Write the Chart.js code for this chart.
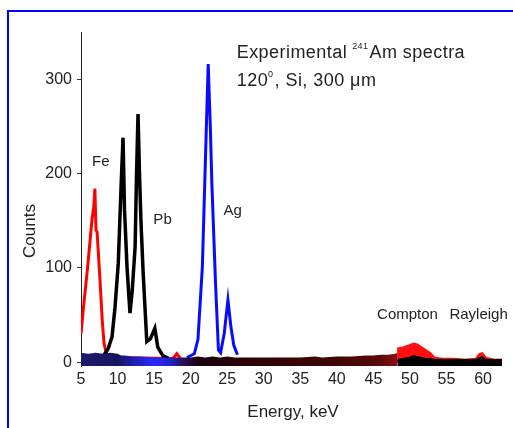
<!DOCTYPE html>
<html lang="en">

<head>
    <meta charset="UTF-8">
    <title>Experimental 241Am spectra</title>
    <style>
        body { margin: 0; background: #fff; }
        #wrap { position: relative; width: 513px; height: 428px; }
        #frame {
            position: absolute; left: 7px; top: 10px; width: 600px; height: 500px;
            border: 2px solid #0000ff; pointer-events: none;
        }
    </style>
</head>

<body>
    <div id="wrap">
        <canvas id="myChart"></canvas>
        <div id="frame"></div>
    </div>
    <script src="https://cdn.jsdelivr.net/npm/chart.js"></script>
    <script>
        // Fe target, red line
        const feEnergy = [5.0, 5.3, 5.96, 6.5, 6.75, 6.9, 7.05, 7.2, 7.6, 7.9, 8.15, 8.5, 9.0, 17.6, 18.1, 18.6];
        const feCounts = [30, 55, 105, 151, 165, 184, 140, 138, 87, 45, 20, 8, 5, 4, 9, 4];

        // Pb target, black line
        const pbEnergy = [8.0, 8.7, 9.25, 9.65, 10.1, 10.5, 10.75, 10.95, 11.3, 11.7, 12.0, 12.4, 12.6, 12.8, 13.0, 13.2, 13.5, 14.0, 14.5, 15.1, 15.5, 16.2, 17.0];
        const pbCounts = [6, 14, 27, 58, 105, 190, 238, 162, 100, 52, 75, 122, 200, 263, 200, 150, 95, 22, 25, 36, 16, 7, 4];

        // Ag target, blue line
        const agEnergy = [19.5, 20.5, 21.0, 21.6, 22.1, 22.4, 22.7, 22.9, 23.4, 23.8, 24.1, 24.6, 25.1, 25.5, 25.9, 26.4];
        const agCounts = [5, 9, 24, 101, 236, 316, 247, 190, 84, 13, 10, 31, 66, 38, 18, 8];

        // noise floor under the peaks
        const floorEnergy = [5, 6, 7, 8, 9, 10, 10.5, 11, 12, 13, 15, 17, 18, 19, 20, 21, 22, 23, 24, 25, 26, 27, 28, 30, 32, 33, 35, 37, 38, 40, 42, 44, 45, 46, 47, 48, 48.3];
        const floorCounts = [10, 9, 10, 9, 10, 9, 7, 7, 6, 6, 5, 5, 5, 5, 5, 6, 5, 6, 5, 6, 5, 5, 5, 5, 5, 5, 5, 6, 5, 6, 6, 7, 7, 8, 8, 9, 10];

        // Compton and Rayleigh region
        const comptonEnergy = [48.3, 48.35, 49.0, 49.8, 50.5, 51.0, 51.6, 52.2, 52.8, 53.4, 54.5, 56.0, 57.5, 59.0, 59.5, 59.9, 60.4, 61.5, 62.6];
        const comptonRed = [0, 15, 16, 18, 20, 19, 16, 13, 10, 5, 4, 4, 3, 4, 9, 10, 5, 3, 3];
        const comptonBlack = [0, 3, 4, 5, 7, 6, 5, 4, 4, 3, 3, 3, 3, 3, 5, 6, 3, 3, 3];

        const xTicks = [5, 10, 15, 20, 25, 30, 35, 40, 45, 50, 55, 60];
        const yTicks = [0, 100, 200, 300];

        const labels = [
            ['Fe', 6.5, 212],
            ['Pb', 14.9, 151],
            ['Ag', 24.5, 160],
            ['Compton', 45.5, 50],
            ['Rayleigh', 55.4, 50]
        ];

        const floorStops = [
            [5, '#1c1c6e'], [10, '#15155e'], [12, '#1e1eaa'], [15, '#2a2aff'], [17, '#2222d0'],
            [19, '#22105a'], [21, '#1c0010'], [28, '#2c0404'], [40, '#400606'], [46, '#5c0808'], [48.3, '#8c1010']
        ];

        const pts = (xs, ys) => xs.map((x, i) => ({ x: x, y: ys[i] }));

        const floorFill = (c) => {
            const chart = c.chart;
            if (!chart.chartArea) return '#200';
            const sx = chart.scales.x;
            const a = floorStops[0][0], b = floorStops[floorStops.length - 1][0];
            const g = chart.ctx.createLinearGradient(sx.getPixelForValue(a), 0, sx.getPixelForValue(b), 0);
            floorStops.forEach(s => g.addColorStop((s[0] - a) / (b - a), s[1]));
            return g;
        };

        const font = '"Liberation Sans", Arial, sans-serif';

        const textPlugin = {
            id: 'texts',
            afterDatasetsDraw(chart) {
                const ctx = chart.ctx;
                const sx = chart.scales.x, sy = chart.scales.y;
                ctx.save();
                ctx.fillStyle = '#222';
                ctx.textBaseline = 'middle';
                ctx.textAlign = 'left';
                ctx.font = '15px ' + font;
                labels.forEach(l => ctx.fillText(l[0], sx.getPixelForValue(l[1]), sy.getPixelForValue(l[2])));

                // y axis title, sits below the middle of the axis
                ctx.save();
                ctx.translate(30, 231);
                ctx.rotate(-Math.PI / 2);
                ctx.textAlign = 'center';
                ctx.font = '17px ' + font;
                ctx.fillText('Counts', 0, 0);
                ctx.restore();

                // title with superscripts
                ctx.textBaseline = 'alphabetic';
                ctx.letterSpacing = '0.45px';
                const rich = (x, y, parts) => {
                    parts.forEach(p => {
                        ctx.font = p[1] + 'px ' + font;
                        ctx.fillText(p[0], x, y + p[2]);
                        x += ctx.measureText(p[0]).width + p[3];
                    });
                };
                const tx = sx.getPixelForValue(26.3);
                rich(tx, sy.getPixelForValue(322), [['Experimental', 18, 0, 5], ['241', 9, -9, 1], ['Am spectra', 18, 0, 0]]);
                rich(tx, sy.getPixelForValue(292.5), [['120', 18, 0, 0], ['0', 9, -9, 1], [', Si, 300 \u03bcm', 18, 0, 0]]);
                ctx.restore();
            }
        };

        const config = {
            type: 'line',
            data: {
                datasets: [{
                    data: pts(floorEnergy, floorCounts),
                    borderWidth: 0,
                    backgroundColor: floorFill,
                    fill: 'start'
                }, {
                    data: pts(comptonEnergy, comptonBlack),
                    borderColor: '#000',
                    borderWidth: 1,
                    backgroundColor: '#000',
                    fill: 'start'
                }, {
                    data: pts(comptonEnergy, comptonRed),
                    borderColor: '#ff1010',
                    borderWidth: 1.5,
                    backgroundColor: '#ff1010',
                    fill: 'start'
                }, {
                    data: pts(agEnergy, agCounts),
                    borderColor: '#0a0aff',
                    borderWidth: 3
                }, {
                    data: pts(pbEnergy, pbCounts),
                    borderColor: '#000',
                    borderWidth: 3.5
                }, {
                    data: pts(feEnergy, feCounts),
                    borderColor: '#ff0000',
                    borderWidth: 3
                }]
            },
            options: {
                responsive: true,
                maintainAspectRatio: false,
                animation: false,
                layout: { padding: { top: 32, right: 8, left: 0, bottom: 0 } },
                elements: { point: { radius: 0 }, line: { tension: 0 } },
                plugins: { legend: { display: false }, tooltip: { enabled: false } },
                scales: {
                    x: {
                        type: 'linear',
                        min: 5,
                        max: 63,
                        afterFit: s => { s.height = 62; },
                        afterBuildTicks: s => { s.ticks = xTicks.map(v => ({ value: v })); },
                        grid: { display: false, drawTicks: false },
                        border: { display: false },
                        ticks: {
                            padding: 4,
                            color: '#222',
                            font: { family: font, size: 16 }
                        },
                        title: {
                            display: true,
                            text: 'Energy, keV',
                            color: '#222',
                            font: { family: font, size: 17 },
                            padding: { top: 0, bottom: 5 }
                        }
                    },
                    y: {
                        min: -4,
                        max: 350,
                        afterFit: s => { s.width = 81; },
                        afterBuildTicks: s => { s.ticks = yTicks.map(v => ({ value: v })); },
                        grid: { display: true, drawOnChartArea: false, drawTicks: true, tickLength: 4, color: '#333' },
                        border: { display: true, color: '#1e1e2e', width: 1 },
                        ticks: {
                            padding: 5,
                            color: '#222',
                            font: { family: font, size: 16 }
                        },
                        title: { display: false }
                    }
                }
            },
            plugins: [textPlugin]
        };

        new Chart(document.getElementById('myChart'), config);
    </script>
</body>

</html>
